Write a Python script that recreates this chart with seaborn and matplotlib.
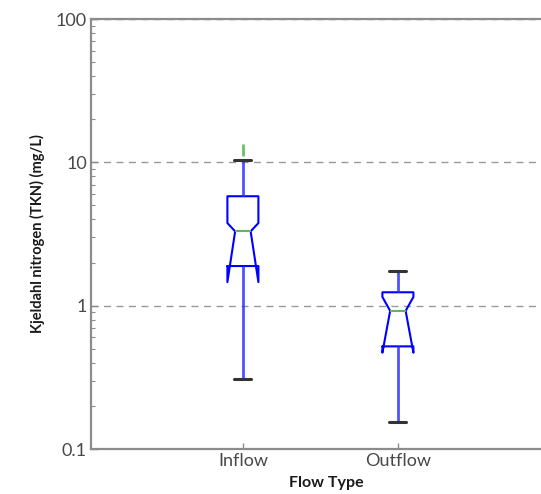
import matplotlib
matplotlib.use("Agg")
import matplotlib.pyplot as plt
import matplotlib.ticker as mticker
import numpy as np
import pandas as pd
import seaborn as sns

# ---- data ----
flow_types = ["Inflow", "Outflow"]
whisker_low = [0.31, 0.155]
q1 = [1.89, 0.52]
median = [3.3, 0.92]
q3 = [5.8, 1.24]
whisker_high = [10.4, 1.74]
ci_low = [1.46, 0.47]
ci_high = [3.77, 1.15]
fliers = [[12.2], []]
y_ticks = [0.1, 1, 10, 100]
y_tick_labels = ["0.1", "1", "10", "100"]

sns.set_style("ticks")
plt.rcParams["font.family"] = ["Lato", "DejaVu Sans"]

W, H = 541, 494
fig = plt.figure(figsize=(W / 100, H / 100), dpi=100)
x_left, x_right = -0.98, 2.05
px_per_unit = 155
ax = fig.add_axes([91 / W, (H - 449) / H, (x_right - x_left) * px_per_unit / W, 430 / H])

# long-form table built from the arrays (one row per summary value)
rows = []
for i, ft in enumerate(flow_types):
    for v in (whisker_low[i], q1[i], median[i], q3[i], whisker_high[i]):
        rows.append({"Flow Type": ft, "value": v})
df = pd.DataFrame(rows)

stats = []
for i, ft in enumerate(flow_types):
    stats.append(dict(label=ft, whislo=whisker_low[i], q1=q1[i], med=median[i],
                      q3=q3[i], whishi=whisker_high[i], cilo=ci_low[i],
                      cihi=ci_high[i], fliers=np.array(fliers[i]), mean=median[i]))

sns.boxplot(data=df, x="Flow Type", y="value", order=flow_types, ax=ax,
            log_scale=True, fill=False, width=0.2, notch=True,
            bxpstats=stats, capwidths=0.11,
            boxprops=dict(color="#0000ff", linewidth=1.5),
            whiskerprops=dict(color="#3333ff", linewidth=2.0, alpha=0.85),
            medianprops=dict(color="#5cb85c", linewidth=1.5),
            capprops=dict(color="#333333", linewidth=2.2),
            flierprops=dict(marker="|", markeredgecolor="#6cc06c",
                            markersize=9, markeredgewidth=2.0))

ax.set_yscale("log")
ax.set_ylim(0.1, 100)
ax.set_xlim(x_left, x_right)
ax.yaxis.set_major_locator(mticker.FixedLocator(y_ticks))
ax.yaxis.set_major_formatter(mticker.FixedFormatter(y_tick_labels))
ax.yaxis.set_minor_locator(mticker.LogLocator(base=10, subs=np.arange(2, 10)))
ax.yaxis.set_minor_formatter(mticker.NullFormatter())

ax.yaxis.grid(True, which="major", linestyle=(0, (5, 4)), color="#999999", linewidth=1.0)
ax.set_axisbelow(True)

for s in ax.spines.values():
    s.set_visible(True)
    s.set_color("#8c8c8c")
    s.set_linewidth(1.6)

ax.tick_params(axis="both", which="major", direction="in", length=5, width=1,
               color="#8c8c8c", labelsize=13, labelcolor="#484848", pad=3)
ax.tick_params(axis="y", which="minor", direction="in", length=3, width=0.8,
               color="#8c8c8c")
ax.tick_params(axis="x", which="major", length=4)
ax.tick_params(top=False, right=False)

ax.set_xlabel("Flow Type", fontsize=11.5, fontweight="bold", color="#1a1a1a", labelpad=5)
ax.set_ylabel("Kjeldahl nitrogen (TKN) (mg/L)", fontsize=10.5, fontweight="bold",
              color="#1a1a1a", labelpad=8)

fig.savefig("out.png", dpi=100)
